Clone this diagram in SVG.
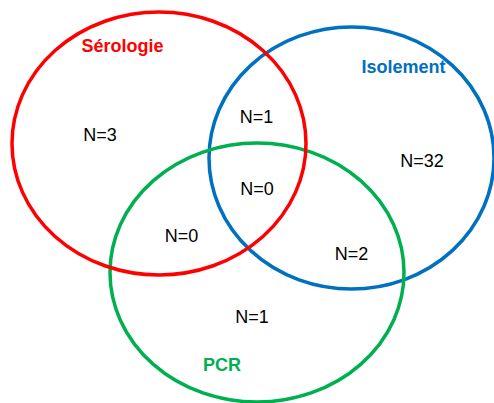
<svg xmlns="http://www.w3.org/2000/svg" width="494" height="403" viewBox="0 0 494 403">
<style>
.set{fill:none;stroke-width:3.5}
.lbl{font-family:"Liberation Sans",Arial,sans-serif;font-size:18px;font-weight:bold;text-anchor:middle}
.n{font-family:"Liberation Sans",Arial,sans-serif;font-size:18px;fill:#000;text-anchor:middle}
</style>
<rect width="494" height="403" fill="#fff"/>
<g id="isolement">
<ellipse class="set" cx="351.5" cy="158" rx="142.5" ry="131" stroke="#0070C0"/>
<text class="lbl" x="403.5" y="73" fill="#0070C0">Isolement</text>
</g>
<g id="pcr">
<ellipse class="set" cx="257" cy="272.5" rx="147" ry="129.5" stroke="#00B050"/>
<text class="lbl" x="222" y="371" fill="#00B050">PCR</text>
</g>
<g id="serologie">
<ellipse class="set" cx="159" cy="143.5" rx="147" ry="131.5" stroke="#FF0000"/>
<text class="lbl" x="122.5" y="52" fill="#FF0000">Sérologie</text>
</g>
<g id="counts">
<text class="n" x="100" y="141">N=3</text>
<text class="n" x="256.5" y="123">N=1</text>
<text class="n" x="422" y="167">N=32</text>
<text class="n" x="257" y="195">N=0</text>
<text class="n" x="181.5" y="242">N=0</text>
<text class="n" x="351.5" y="260">N=2</text>
<text class="n" x="252" y="323">N=1</text>
</g>
</svg>
